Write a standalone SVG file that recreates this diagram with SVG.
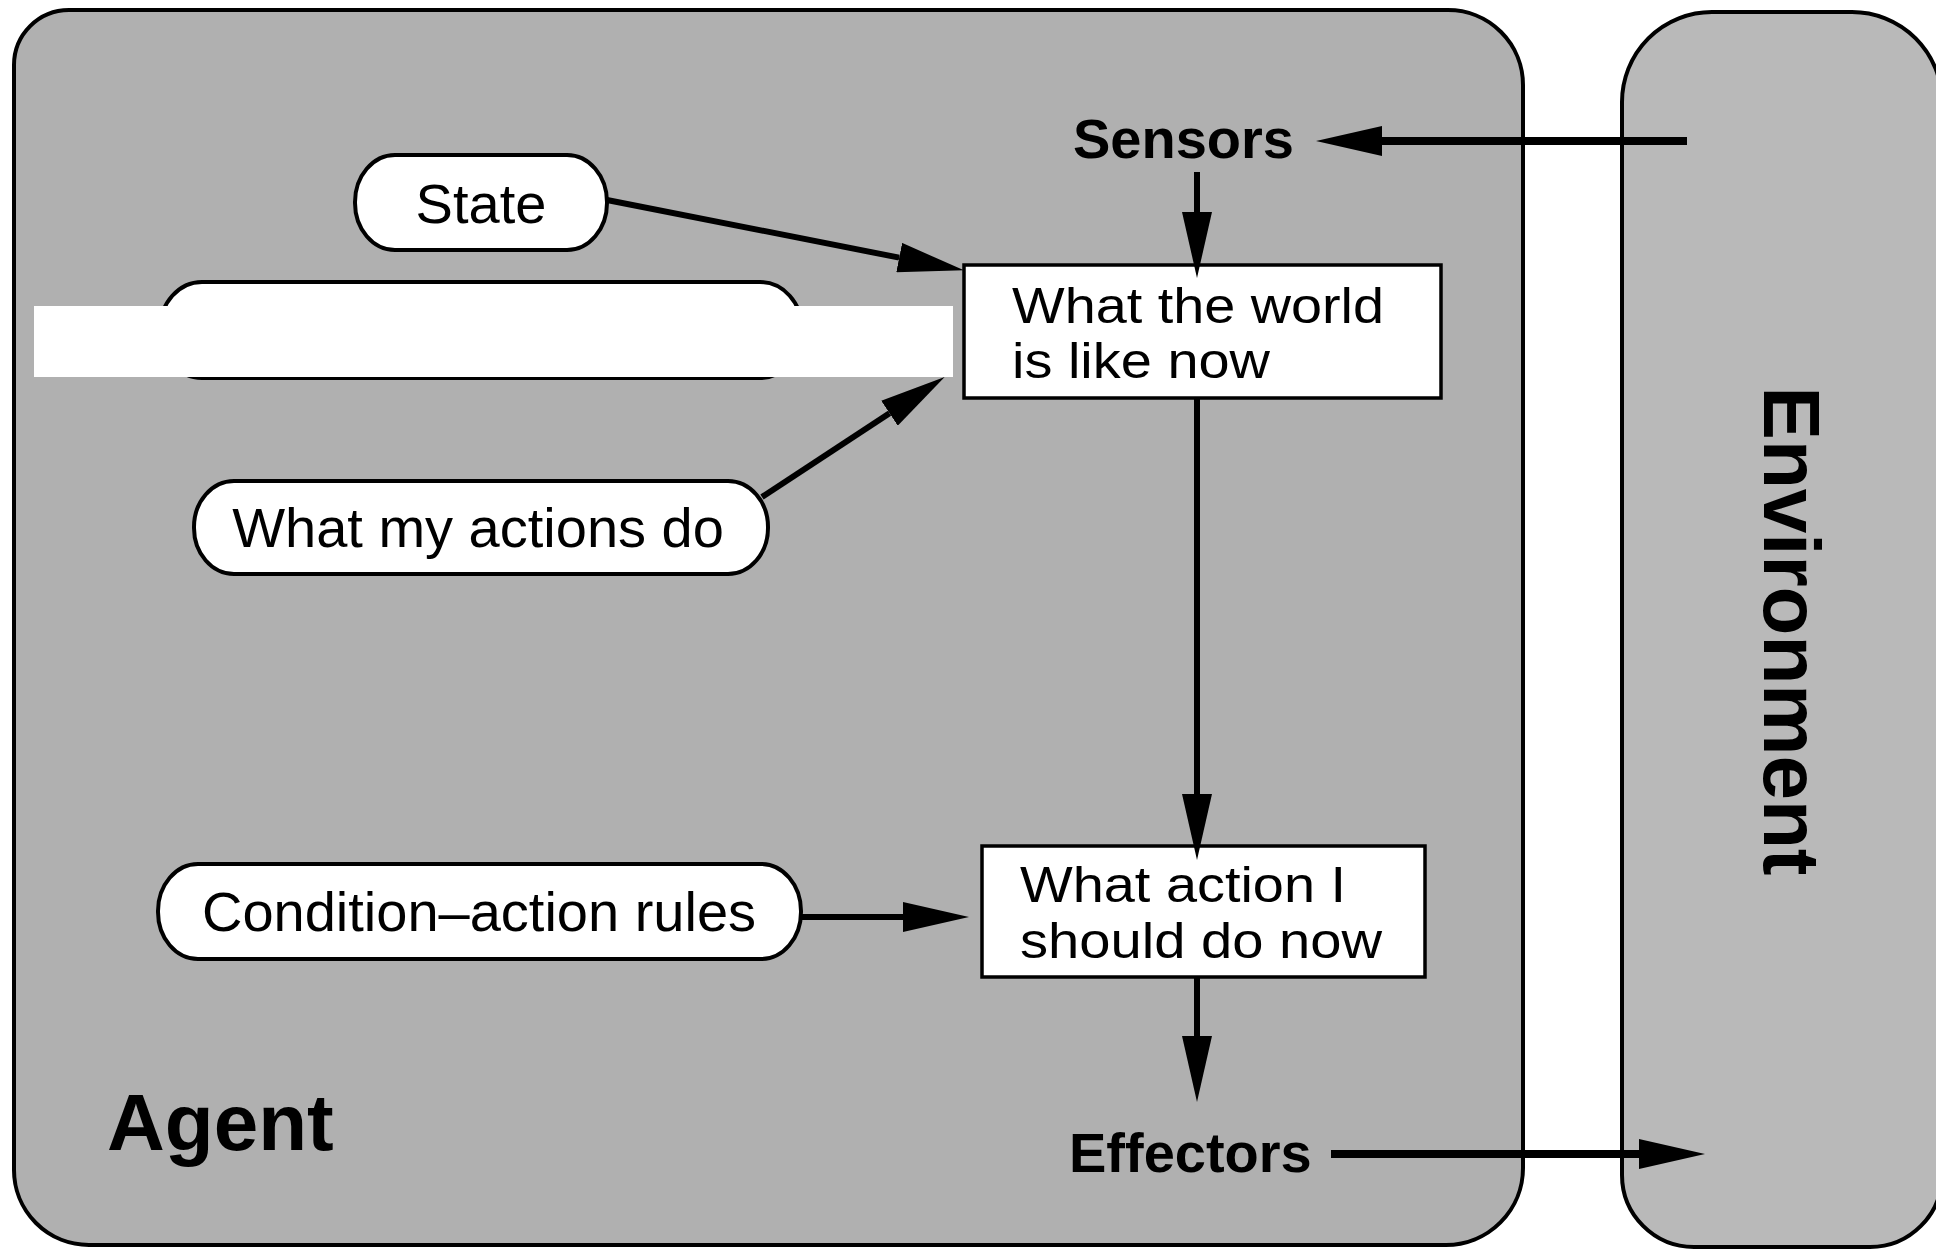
<svg xmlns="http://www.w3.org/2000/svg" width="1936" height="1249" viewBox="0 0 1936 1249">
<style>
.frame{stroke:#000;stroke-width:4;}
.pill{fill:#fff;stroke:#000;stroke-width:4;}
.box{fill:#fff;stroke:#000;stroke-width:3.5;}
.lbl{font-family:"Liberation Sans",Arial,sans-serif;font-size:56px;fill:#000;}
.blbl{font-family:"Liberation Sans",Arial,sans-serif;font-size:50px;fill:#000;}
.bold{font-family:"Liberation Sans",Arial,sans-serif;font-weight:bold;fill:#000;}
.conn{stroke:#000;stroke-width:6;fill:none;}
.thick{stroke-width:8;}
</style>
<defs>
<marker id="ah" markerUnits="userSpaceOnUse" markerWidth="66" markerHeight="30" refX="0" refY="15" orient="auto" viewBox="0 0 66 30">
<path d="M0,0 L66,15 L0,30 Z" fill="#000"/>
</marker>
</defs>
<rect width="1936" height="1249" fill="#fff"/>
<g id="agent">
<path class="frame" fill="#b0b0b0" d="M69,10 H1448 A75,75 0 0 1 1523,85 V1168 A77,77 0 0 1 1446,1245 H89 A75,75 0 0 1 14,1170 V65 A55,55 0 0 1 69,10 Z"/>
<text class="bold" x="107" y="1150" font-size="80">Agent</text>
</g>
<g id="environment">
<path class="frame" fill="#b9b9b9" d="M1712,12 H1852 A90,90 0 0 1 1942,102 V1175 A72,72 0 0 1 1870,1247 H1694 A72,72 0 0 1 1622,1175 V102 A90,90 0 0 1 1712,12 Z"/>
<text class="bold" x="1764" y="631" font-size="80" text-anchor="middle" transform="rotate(90 1764 631)">Environment</text>
</g>
<g id="sensors">
<text class="bold" x="1073" y="158" font-size="56">Sensors</text>
</g>
<g id="effectors">
<text class="bold" x="1069" y="1172" font-size="56">Effectors</text>
</g>
<g id="state">
<rect class="pill" x="355" y="155" width="252" height="95" rx="40" ry="47"/>
<text class="lbl" x="481" y="223" text-anchor="middle">State</text>
</g>
<g id="hidden-pill">
<rect class="pill" x="160" y="282" width="642" height="96" rx="42" ry="47"/>
<rect x="34" y="306" width="919" height="71" fill="#fff"/>
</g>
<g id="actions">
<rect class="pill" x="194" y="481" width="574" height="93" rx="40" ry="46"/>
<text class="lbl" x="478" y="547" text-anchor="middle">What my actions do</text>
</g>
<g id="rules">
<rect class="pill" x="158" y="864" width="643" height="95" rx="40" ry="47"/>
<text class="lbl" x="479" y="931" text-anchor="middle">Condition–action rules</text>
</g>
<g id="world">
<rect class="box" x="964" y="265" width="477" height="133"/>
<text class="blbl" x="1012" y="323" textLength="372" lengthAdjust="spacingAndGlyphs">What the world</text>
<text class="blbl" x="1012" y="378" textLength="258" lengthAdjust="spacingAndGlyphs">is like now</text>
</g>
<g id="action">
<rect class="box" x="982" y="846" width="443" height="131"/>
<text class="blbl" x="1020" y="902" textLength="326" lengthAdjust="spacingAndGlyphs">What action I</text>
<text class="blbl" x="1020" y="958" textLength="362" lengthAdjust="spacingAndGlyphs">should do now</text>
</g>
<g id="connectors">
<path class="conn thick" d="M1687,141 H1382" marker-end="url(#ah)"/>
<path class="conn" d="M1197,172 V212" marker-end="url(#ah)"/>
<path class="conn" d="M607,200 L899.2,257.6" marker-end="url(#ah)"/>
<path class="conn" d="M762,497 L889.5,413.2" marker-end="url(#ah)"/>
<path class="conn" d="M1197,399 V794" marker-end="url(#ah)"/>
<path class="conn" d="M801,917 H903" marker-end="url(#ah)"/>
<path class="conn" d="M1197,977 V1036" marker-end="url(#ah)"/>
<path class="conn thick" d="M1331,1154 H1639" marker-end="url(#ah)"/>
</g>
</svg>
